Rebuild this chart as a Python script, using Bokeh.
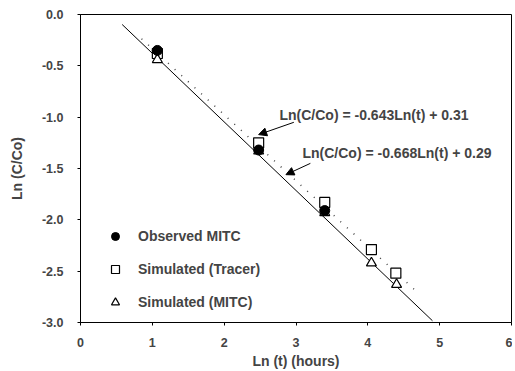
from bokeh.plotting import figure
from bokeh.models import Legend, LegendItem, Arrow, NormalHead, Label, FixedTicker, CustomJSTickFormatter
from bokeh.embed import file_html
from bokeh.resources import INLINE
import numpy as np

# Data
obs_x = [1.07, 2.48, 3.40]
obs_y = [-0.35, -1.32, -1.91]
tracer_x = [1.07, 2.48, 3.40, 4.05, 4.39]
tracer_y = [-0.38, -1.25, -1.83, -2.29, -2.52]
sim_x = [1.07, 2.48, 3.40, 4.05, 4.40]
sim_y = [-0.44, -1.33, -1.93, -2.42, -2.63]

fit_solid_slope, fit_solid_int = -0.668, 0.29
fit_solid_range = [0.58, 4.9]
fit_dot_slope, fit_dot_int = -0.643, 0.31
fit_dot_range = [0.85, 4.7]

eq1 = "Ln(C/Co) = -0.643Ln(t) + 0.31"
eq2 = "Ln(C/Co) = -0.668Ln(t) + 0.29"

x_ticks = [0, 1, 2, 3, 4, 5, 6]
y_ticks = [0, -0.5, -1.0, -1.5, -2.0, -2.5, -3.0]

FONT = "Liberation Sans"

p = figure(width=512, height=371, output_backend="svg", toolbar_location=None,
           x_range=(0, 6), y_range=(-3.0, 0.0),
           min_border_left=80, min_border_right=1, min_border_top=14, min_border_bottom=48)
p.grid.visible = False
p.outline_line_color = "black"
p.outline_line_width = 1
p.background_fill_color = "white"
p.border_fill_color = "white"

for ax in (p.xaxis[0], p.yaxis[0]):
    ax.major_label_text_font = FONT
    ax.major_label_text_font_style = "bold"
    ax.major_label_text_font_size = "12.5px"
    ax.axis_label_text_font = FONT
    ax.axis_label_text_font_style = "bold"
    ax.axis_label_text_font_size = "14px"
    ax.minor_tick_line_color = None
    ax.major_tick_in = 0
    ax.major_tick_out = 3
    ax.axis_line_color = "black"

p.xaxis.ticker = FixedTicker(ticks=x_ticks)
p.yaxis.ticker = FixedTicker(ticks=y_ticks)
p.yaxis.formatter = CustomJSTickFormatter(code="return tick.toFixed(1);")
p.xaxis.axis_label = "Ln (t) (hours)"
p.yaxis.axis_label = "Ln (C/Co)"
p.xaxis.major_label_standoff = 12
p.yaxis.major_label_standoff = 14
p.yaxis.axis_label_standoff = 14
p.xaxis.axis_label_standoff = 3

# fit lines
xs = np.array(fit_solid_range)
p.line(xs, fit_solid_slope * xs + fit_solid_int, line_color="black", line_width=1)
xd = np.array(fit_dot_range)
p.line(xd, fit_dot_slope * xd + fit_dot_int, line_color="#444444", line_width=1.5, line_dash="1 8")

r_sq = p.scatter(tracer_x, tracer_y, marker="square", size=10, fill_color="white",
                 line_color="black", line_width=1.2)
r_tri = p.scatter(sim_x, sim_y, marker="triangle", size=10, fill_color="white",
                  line_color="black", line_width=1.2)
r_obs = p.scatter(obs_x, obs_y, marker="circle", size=10, fill_color="black",
                  line_color="black")

legend = Legend(items=[
    LegendItem(label="Observed MITC", renderers=[r_obs]),
    LegendItem(label="Simulated (Tracer)", renderers=[r_sq]),
    LegendItem(label="Simulated (MITC)", renderers=[r_tri]),
], location=(25, 10), label_text_font=FONT, label_text_font_style="bold",
    label_text_font_size="14px", glyph_width=20, glyph_height=20, label_height=20,
    spacing=13, padding=5, margin=0, label_standoff=13,
    border_line_color=None, background_fill_alpha=0)
p.add_layout(legend, "center")

# annotations
p.add_layout(Label(x=2.77, y=-0.98, text=eq1, text_font=FONT, text_font_style="bold",
                   text_font_size="14px", text_baseline="middle"))
p.add_layout(Label(x=3.09, y=-1.35, text=eq2, text_font=FONT, text_font_style="bold",
                   text_font_size="14px", text_baseline="middle"))
p.add_layout(Arrow(x_start=2.97, y_start=-1.05, x_end=2.48, y_end=-1.17,
                   line_color="black", line_width=1,
                   end=NormalHead(size=8, fill_color="black", line_color="black")))
p.add_layout(Arrow(x_start=3.2, y_start=-1.45, x_end=2.86, y_end=-1.56,
                   line_color="black", line_width=1,
                   end=NormalHead(size=8, fill_color="black", line_color="black")))

open("out.html", "w").write(file_html(p, INLINE))
